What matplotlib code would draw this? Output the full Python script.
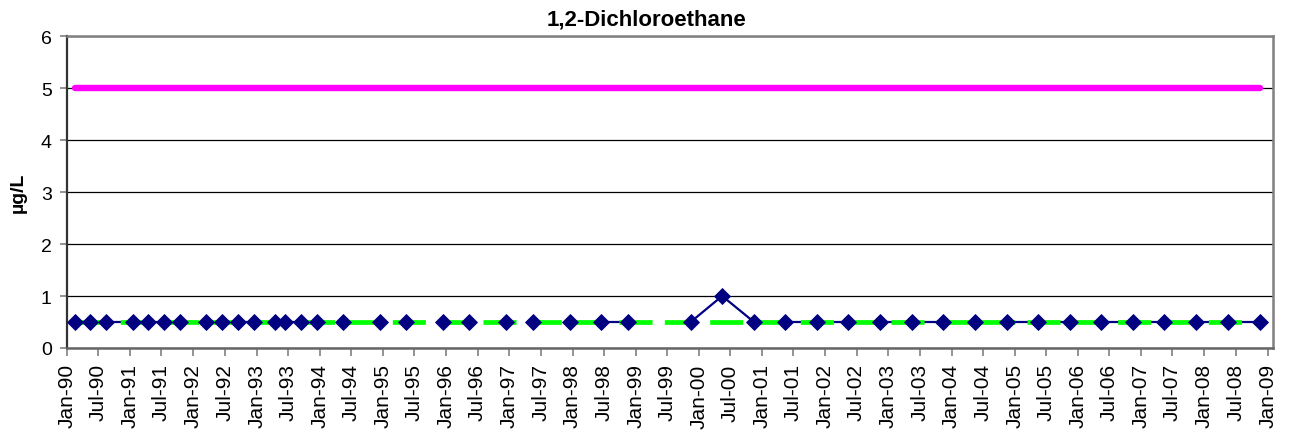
import matplotlib
matplotlib.use("Agg")
import matplotlib.pyplot as plt
import matplotlib.dates as mdates
import numpy as np
import pandas as pd

plt.rcParams['font.family'] = ['Liberation Sans', 'DejaVu Sans']

# Sampling events and measured 1,2-Dichloroethane concentrations (ug/L)
sample_dates = [
    "1990-02-15", "1990-05-15", "1990-08-15", "1991-01-15", "1991-04-15",
    "1991-07-15", "1991-10-15", "1992-03-15", "1992-06-15", "1992-09-15",
    "1992-12-15", "1993-04-15", "1993-06-15", "1993-09-15", "1993-12-15",
    "1994-05-15", "1994-12-15", "1995-05-15", "1995-12-15", "1996-05-15",
    "1996-12-15", "1997-05-15", "1997-12-15", "1998-06-15", "1998-11-15",
    "1999-11-15", "2000-05-15", "2000-11-15", "2001-05-15", "2001-11-15",
    "2002-05-15", "2002-11-15", "2003-05-15", "2003-11-15", "2004-05-15",
    "2004-11-15", "2005-05-15", "2005-11-15", "2006-05-15", "2006-11-15",
    "2007-05-15", "2007-11-15", "2008-05-15", "2008-11-15",
]
concentration = [
    0.5, 0.5, 0.5, 0.5, 0.5,
    0.5, 0.5, 0.5, 0.5, 0.5,
    0.5, 0.5, 0.5, 0.5, 0.5,
    0.5, 0.5, 0.5, 0.5, 0.5,
    0.5, 0.5, 0.5, 0.5, 0.5,
    0.5, 1.0, 0.5, 0.5, 0.5,
    0.5, 0.5, 0.5, 0.5, 0.5,
    0.5, 0.5, 0.5, 0.5, 0.5,
    0.5, 0.5, 0.5, 0.5,
]
# Runs of consecutive samples joined by the trend line (start, end index inclusive)
connected_runs = [(0, 14), (15, 15), (16, 16), (17, 17), (18, 18), (19, 19),
                  (20, 20), (21, 21), (22, 24), (25, 43)]

mcl = 5.0              # maximum contaminant level
reporting_limit = 0.5  # laboratory reporting limit

dates = pd.to_datetime(sample_dates)
conc = np.array(concentration)

W, H = 1289, 431
fig = plt.figure(figsize=(W / 100, H / 100), dpi=100)
ax = fig.add_axes([67 / W, (H - 349) / H, (1273 - 67) / W, (349 - 37) / H])

# Regulatory limit
ax.plot(dates, np.full(len(dates), mcl), color='#FF00FF', lw=4.6,
        solid_capstyle='round', zorder=3)

# Trend line segments
for start, end in connected_runs:
    ax.plot(dates[start:end + 1], conc[start:end + 1], color='#000080',
            lw=1.6, zorder=2)

# Reporting limit
ax.plot(dates, np.full(len(dates), reporting_limit), color='#00FF00', lw=3.4,
        linestyle=(0, (7.0, 2.6)), dash_capstyle='butt', zorder=3)

# Sample markers
ax.plot(dates, conc, linestyle='none', marker='D', markersize=8.2,
        markerfacecolor='#000080', markeredgecolor='#000080',
        markeredgewidth=0.6, zorder=4)

ax.set_ylim(0, 6)
ax.set_yticks(range(0, 7))
ax.set_xlim(pd.Timestamp("1990-01-01"), pd.Timestamp("2009-02-01"))
ax.xaxis.set_major_locator(mdates.MonthLocator(bymonth=[1, 7]))
ax.xaxis.set_major_formatter(mdates.DateFormatter('%b-%y'))
ax.tick_params(axis='x', labelrotation=90, labelsize=15, length=6,
               width=1.2, color='#808080', pad=5)
ax.tick_params(axis='y', labelsize=14, length=5, width=1.2, color='#808080',
               pad=6)

ax.grid(axis='y', color='black', lw=0.9)
ax.set_axisbelow(True)

for side in ('top', 'right'):
    ax.spines[side].set_color('#808080')
    ax.spines[side].set_linewidth(1.8)
ax.spines['left'].set_color('#333333')
ax.spines['left'].set_linewidth(1.6)
ax.spines['bottom'].set_color('#666666')
ax.spines['bottom'].set_linewidth(1.8)

fig.text(646 / W, 1 - 20 / H, '1,2-Dichloroethane', ha='center', va='center',
         fontsize=16, fontweight='bold')
fig.text(18 / W, 1 - 193 / H, 'µg/L', ha='center', va='center', rotation=90,
         fontsize=14, fontweight='bold')

fig.savefig('out.png', dpi=100)
